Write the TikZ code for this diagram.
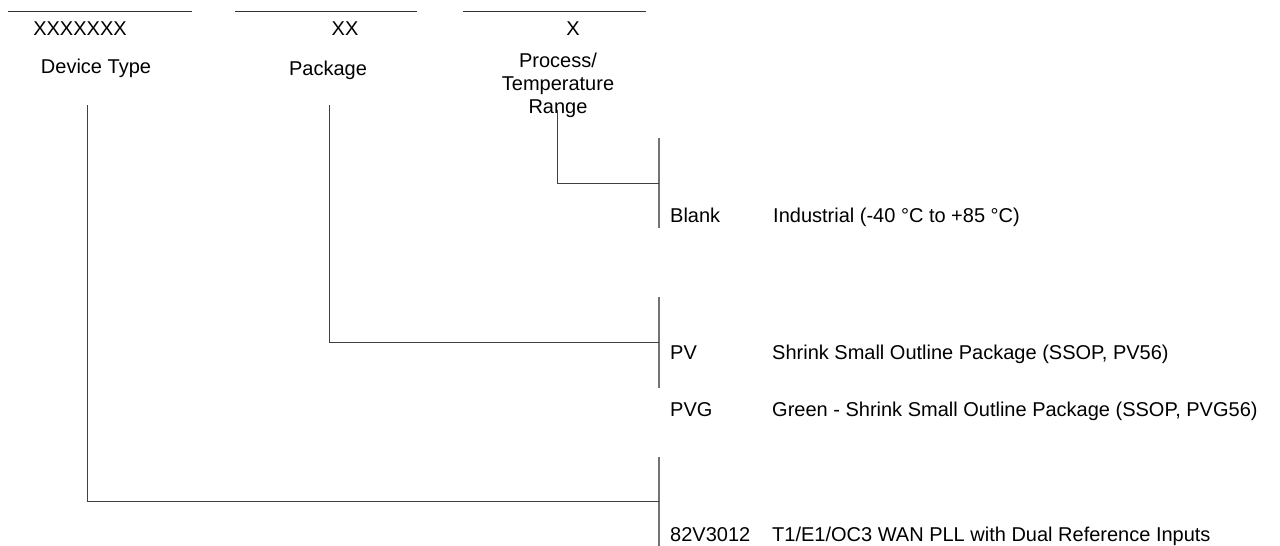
\documentclass[tikz,border=0pt]{standalone}
\usepackage{fontspec}
\setmainfont{Liberation Sans}
\usepackage{tikz}
\usetikzlibrary{positioning,calc}

\tikzset{
  every node/.style={inner sep=0pt,font=\fontsize{20}{23}\selectfont},
  field/.style={draw=black!80,line width=0.8pt},
  conn/.style={draw=black!75,line width=0.9pt},
  bar/.style={draw=black!55,line width=1.6pt},
  code/.style={anchor=base west},
  desc/.style={anchor=base west}
}

\begin{document}
\begin{tikzpicture}[x=1pt,y=-1pt]
			\useasboundingbox (0,0) rectangle (1280,546);
			% fields along the top
			\coordinate (f1-l) at (8,11);   \coordinate (f1-r) at (192,11);
			\coordinate (f2-l) at (235,11); \coordinate (f2-r) at (417,11);
			\coordinate (f3-l) at (463,11); \coordinate (f3-r) at (646,11);
			\path[field](f1-l) edge (f1-r);
			\path[field](f2-l) edge (f2-r);
			\path[field](f3-l) edge (f3-r);
			\node[anchor=base] (xdev) at (80,35) {XXXXXXX};
			\node[anchor=base] (xpkg) at (345,35) {XX};
			\node[anchor=base] (xtmp) at (573,35) {X};
			\node[anchor=base] (devtype) at (96,73) {Device Type};
			\node[anchor=base] (package) at (328,75) {Package};
			% base of a multi-line node is its last line
			\node[anchor=base,align=center] (temprange) at (558,113) {Process/\\Temperature\\Range};
			
			% bars on the right
			\coordinate (b1-t) at (659,138); \coordinate (b1-b) at (659,228);
			\coordinate (b2-t) at (659,297); \coordinate (b2-b) at (659,388);
			\coordinate (b3-t) at (659,457); \coordinate (b3-b) at (659,546);
			\path[bar](b1-t) edge (b1-b);
			\path[bar](b2-t) edge (b2-b);
			\path[bar](b3-t) edge (b3-b);
			
			% connectors
			\coordinate (tmp-top) at (557,110); \coordinate (b1-m) at (659,183);
			\coordinate (pkg-top) at (329,105); \coordinate (b2-m) at (659,342);
			\coordinate (dev-top) at (87,105);  \coordinate (b3-m) at (659,501);
			\draw[conn] (tmp-top) |- (b1-m);
			\draw[conn] (pkg-top) |- (b2-m);
			\draw[conn] (dev-top) |- (b3-m);
			
			% codes and meanings
			\node[code] (blank) at (670,222) {Blank};
			\node[desc] (industrial) at (773,222) {Industrial (-40 °C to +85 °C)};
			\node[code] (pv) at (670,359) {PV};
			\node[desc] (ssop) at (772,359) {Shrink Small Outline Package (SSOP, PV56)};
			\node[code] (pvg) at (670,416) {PVG};
			\node[desc] (greenssop) at (772,416) {Green - Shrink Small Outline Package (SSOP, PVG56)};
			\node[code] (partno) at (670,541) {82V3012};
			\node[desc] (wanpll) at (772,541) {T1/E1/OC3 WAN PLL with Dual Reference Inputs};
\end{tikzpicture}
\end{document}
